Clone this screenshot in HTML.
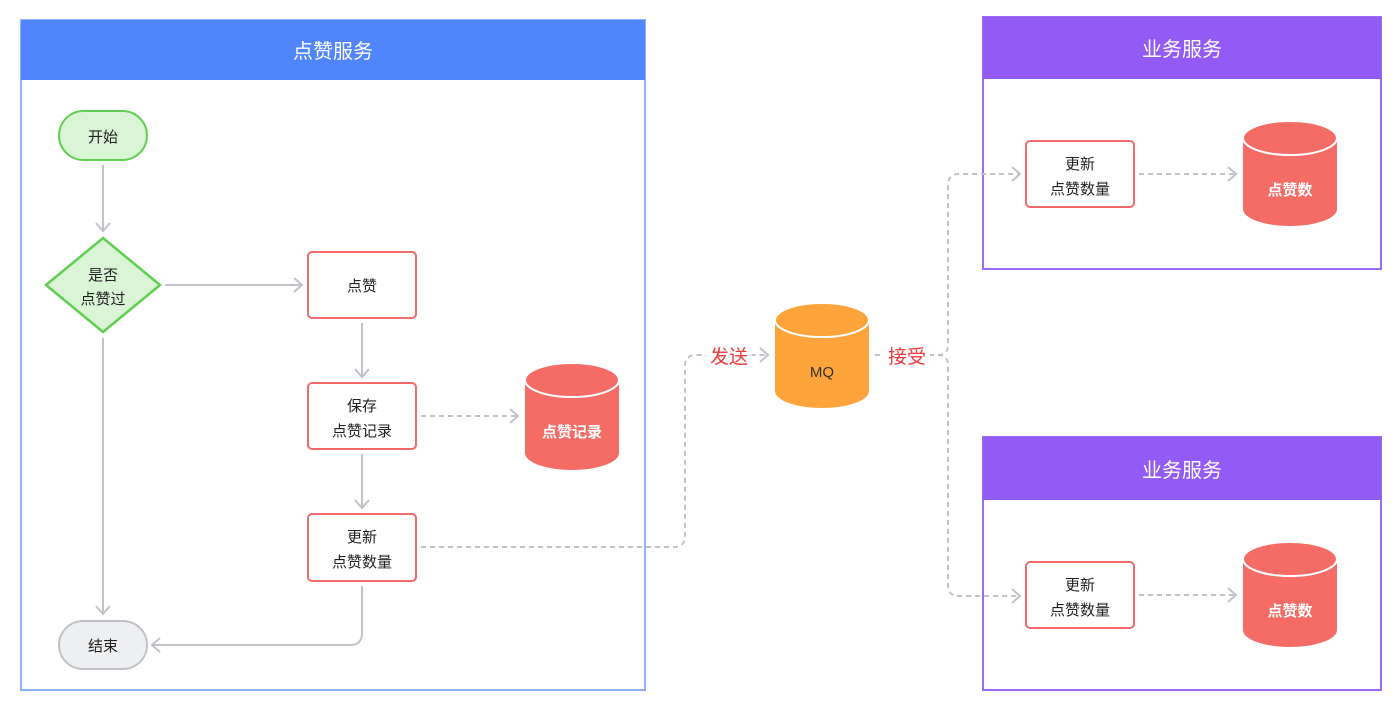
<!DOCTYPE html>
<html><head><meta charset="utf-8"><style>
html,body{margin:0;padding:0;background:#fff;}
svg{display:block;}
text{font-family:"Liberation Sans","Noto Sans CJK SC",sans-serif;}
</style></head><body>
<svg width="1397" height="707" viewBox="0 0 1397 707" xmlns="http://www.w3.org/2000/svg">
<defs>
<marker id="ar" markerWidth="16" markerHeight="18" refX="11" refY="9" orient="auto" markerUnits="userSpaceOnUse">
<path d="M3,2 L11,9 L3,16" fill="none" stroke="#c0c2c8" stroke-width="2"/>
</marker>
</defs>
<rect x="21" y="20" width="624" height="670" fill="#fff" stroke="#8fb0ff" stroke-width="2"/>
<rect x="21" y="20" width="624" height="60" fill="#5085fd"/>
<text x="333" y="58" font-size="20" fill="#fff" text-anchor="middle">点赞服务</text>

<rect x="983" y="17" width="398" height="252" fill="#fff" stroke="#9c6cf7" stroke-width="2"/>
<rect x="983" y="17" width="398" height="62" fill="#925bf5"/>
<text x="1182" y="56" font-size="20" fill="#fff" text-anchor="middle">业务服务</text>
<rect x="983" y="437" width="398" height="253" fill="#fff" stroke="#9c6cf7" stroke-width="2"/>
<rect x="983" y="437" width="398" height="63" fill="#925bf5"/>
<text x="1182" y="477" font-size="20" fill="#fff" text-anchor="middle">业务服务</text>

<g stroke="#c0c2c8" stroke-width="2" fill="none">
<line x1="103" y1="165" x2="103" y2="231" marker-end="url(#ar)"/>
<line x1="165" y1="285" x2="302" y2="285" marker-end="url(#ar)"/>
<line x1="362" y1="323" x2="362" y2="377" marker-end="url(#ar)"/>
<line x1="362" y1="454" x2="362" y2="508" marker-end="url(#ar)"/>
<line x1="103" y1="338" x2="103" y2="614" marker-end="url(#ar)"/>
<path d="M362,586 V633 Q362,645 350,645 H152" marker-end="url(#ar)"/>
</g>
<g stroke="#c0c2c8" stroke-width="2" fill="none" stroke-dasharray="5,4">
<line x1="421" y1="416" x2="518" y2="416" marker-end="url(#ar)"/>
<path d="M421,547 H674 Q685,547 685,536 V366 Q685,355 696,355 H768" marker-end="url(#ar)"/>
<path d="M875,355 H938 Q948,355 948,345 V185 Q948,174 959,174 H1020" marker-end="url(#ar)"/>
<path d="M938,355 Q948,355 948,365 V585 Q948,596 959,596 H1020" marker-end="url(#ar)"/>
<line x1="1139" y1="174" x2="1236" y2="174" marker-end="url(#ar)"/>
<line x1="1139" y1="595" x2="1236" y2="595" marker-end="url(#ar)"/>
</g>
<rect x="706" y="342" width="46" height="26" fill="#fff"/>
<text x="729" y="363" font-size="19" fill="#f0383c" text-anchor="middle">发送</text>
<rect x="884" y="342" width="46" height="26" fill="#fff"/>
<text x="907" y="363" font-size="19" fill="#f0383c" text-anchor="middle">接受</text>

<rect x="59" y="111" width="88" height="49" rx="24.5" fill="#d9f5d6" stroke="#5fcf4f" stroke-width="2"/>
<text x="103" y="142" font-size="15" fill="#222" text-anchor="middle">开始</text>
<path d="M103,238 L160,285 L103,332 L46,285 Z" fill="#d9f5d6" stroke="#5fcf4f" stroke-width="2.5"/>
<text x="103" y="280" font-size="15" fill="#222" text-anchor="middle">是否</text>
<text x="103" y="304" font-size="15" fill="#222" text-anchor="middle">点赞过</text>
<rect x="59" y="621" width="88" height="48" rx="24" fill="#eeeff1" stroke="#c0c2c8" stroke-width="2"/>
<text x="103" y="651" font-size="15" fill="#222" text-anchor="middle">结束</text>

<g fill="#fff" stroke="#f26b6b" stroke-width="2">
<rect x="308" y="252" width="108" height="66" rx="4"/>
<rect x="308" y="383" width="108" height="66" rx="4"/>
<rect x="308" y="514" width="108" height="67" rx="4"/>
<rect x="1026" y="141" width="108" height="66" rx="4"/>
<rect x="1026" y="562" width="108" height="66" rx="4"/>
</g>
<g font-size="15" fill="#222" text-anchor="middle">
<text x="362" y="291">点赞</text>
<text x="362" y="411">保存</text>
<text x="362" y="436">点赞记录</text>
<text x="362" y="542">更新</text>
<text x="362" y="567">点赞数量</text>
<text x="1080" y="169">更新</text>
<text x="1080" y="194">点赞数量</text>
<text x="1080" y="590">更新</text>
<text x="1080" y="615">点赞数量</text>
</g>

<g>
<path d="M525,380 V453 A47,17 0 0 0 619,453 V380 Z" fill="#f56b66"/>
<ellipse cx="572" cy="380" rx="47" ry="17" fill="#f56b66" stroke="#fff" stroke-width="2"/>
<text x="572" y="437" font-size="15" font-weight="bold" fill="#fff" text-anchor="middle">点赞记录</text>

<path d="M775,320 V391 A47,17 0 0 0 869,391 V320 Z" fill="#fea43a"/>
<ellipse cx="822" cy="320" rx="47" ry="17" fill="#fea43a" stroke="#fff" stroke-width="2"/>
<text x="822" y="377" font-size="15" fill="#333" text-anchor="middle">MQ</text>

<path d="M1243,138 V209 A47,17 0 0 0 1337,209 V138 Z" fill="#f56b66"/>
<ellipse cx="1290" cy="138" rx="47" ry="17" fill="#f56b66" stroke="#fff" stroke-width="2"/>
<text x="1290" y="195" font-size="15" font-weight="bold" fill="#fff" text-anchor="middle">点赞数</text>

<path d="M1243,559 V630 A47,17 0 0 0 1337,630 V559 Z" fill="#f56b66"/>
<ellipse cx="1290" cy="559" rx="47" ry="17" fill="#f56b66" stroke="#fff" stroke-width="2"/>
<text x="1290" y="616" font-size="15" font-weight="bold" fill="#fff" text-anchor="middle">点赞数</text>
</g>
</svg>
</body></html>
